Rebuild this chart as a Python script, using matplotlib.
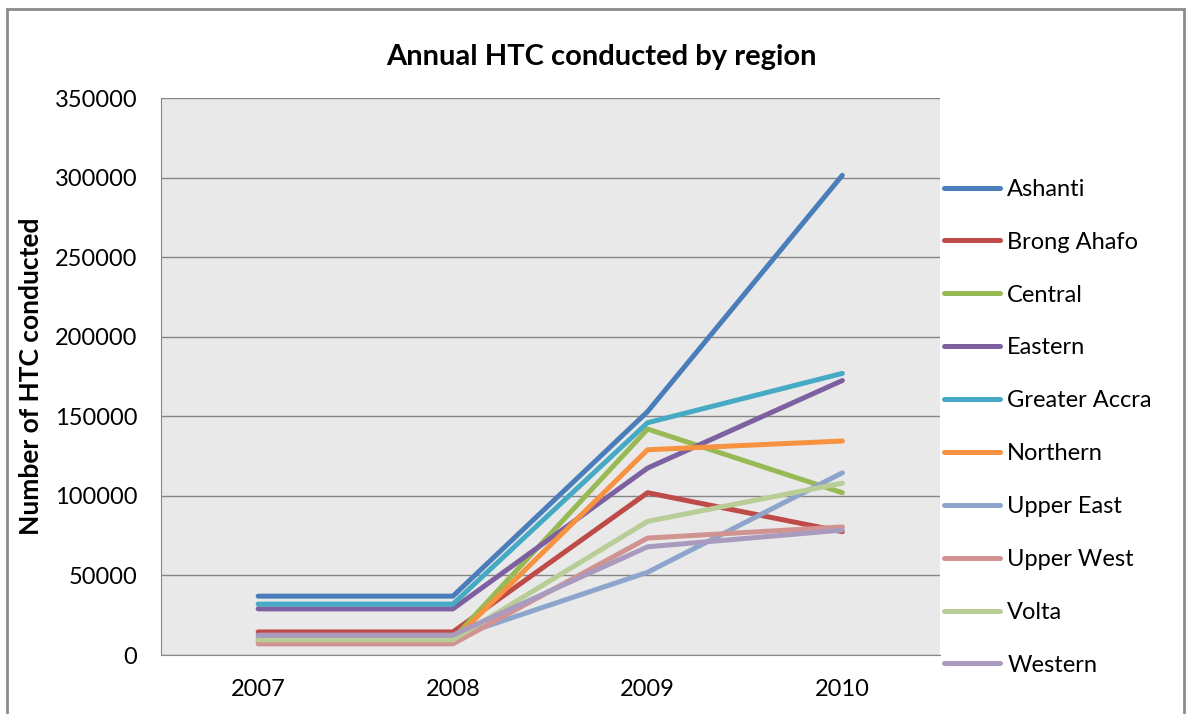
import matplotlib
matplotlib.use("Agg")
from matplotlib import pyplot as plt
from matplotlib.patches import Rectangle

years = ['2007', '2008', '2009', '2010']
regions = ['Ashanti', 'Brong Ahafo', 'Central', 'Eastern', 'Greater Accra',
           'Northern', 'Upper East', 'Upper West', 'Volta', 'Western']

ashanti = [37000, 37000, 153000, 301500]
brong_ahafo = [14500, 14500, 102000, 77500]
central = [10000, 10000, 142000, 102000]
eastern = [29000, 29000, 117500, 172500]
greater_accra = [32000, 32000, 146000, 177000]
northern = [9000, 9000, 129000, 134500]
upper_east = [11000, 11000, 52000, 114500]
upper_west = [7000, 7000, 73500, 80500]
volta = [9500, 9500, 84000, 108000]
western = [12500, 12500, 68000, 78500]

series = [ashanti, brong_ahafo, central, eastern, greater_accra,
          northern, upper_east, upper_west, volta, western]
colors = ['#4A7EBB', '#BE4B48', '#98B954', '#7D60A0', '#46AAC5',
          '#F69240', '#8EA5CB', '#D19392', '#B9CD96', '#A99BBD']

plt.rcParams['font.family'] = ['Lato', 'DejaVu Sans']

fig = plt.figure(figsize=(11.91, 7.14), dpi=100)
fig.patches.append(Rectangle((7 / 1191, -0.1), 1177 / 1191, 1.1 - 9 / 714,
                             transform=fig.transFigure, fill=False,
                             edgecolor='#8C8C8C', linewidth=2))
ax = fig.add_axes([0.135, 0.0826, 0.654, 0.780])
ax.set_facecolor('#E9E9E9')

x = list(range(len(years)))
for name, vals, c in zip(regions, series, colors):
    ax.plot(x, vals, color=c, linewidth=3.6, label=name, solid_capstyle='round')

ax.set_xlim(-0.5, 3.5)
ax.set_ylim(0, 350000)
ax.set_yticks(range(0, 350001, 50000))
ax.set_xticks(x)
ax.set_xticklabels(years)
ax.yaxis.grid(True, color='#868686', linewidth=1)
ax.set_axisbelow(True)
ax.tick_params(axis='y', length=0, labelsize=17, pad=17)
ax.tick_params(axis='x', length=0, labelsize=17, pad=17)
for side in ['top', 'right']:
    ax.spines[side].set_visible(False)
ax.spines['left'].set_color('#868686')
ax.spines['bottom'].set_color('#868686')

fig.text(0.505, 1 - 57 / 714, 'Annual HTC conducted by region', fontsize=21,
         fontweight='bold', ha='center', va='center')
ax.set_ylabel('Number of HTC conducted', fontsize=19, fontweight='bold', labelpad=8)

ax.legend(loc='upper left', bbox_to_anchor=(1.005, 0.855), frameon=False,
          fontsize=17, handlelength=2.4, handletextpad=0.3,
          labelspacing=1.35, borderaxespad=0, borderpad=0)

fig.savefig('out.png', dpi=100)
